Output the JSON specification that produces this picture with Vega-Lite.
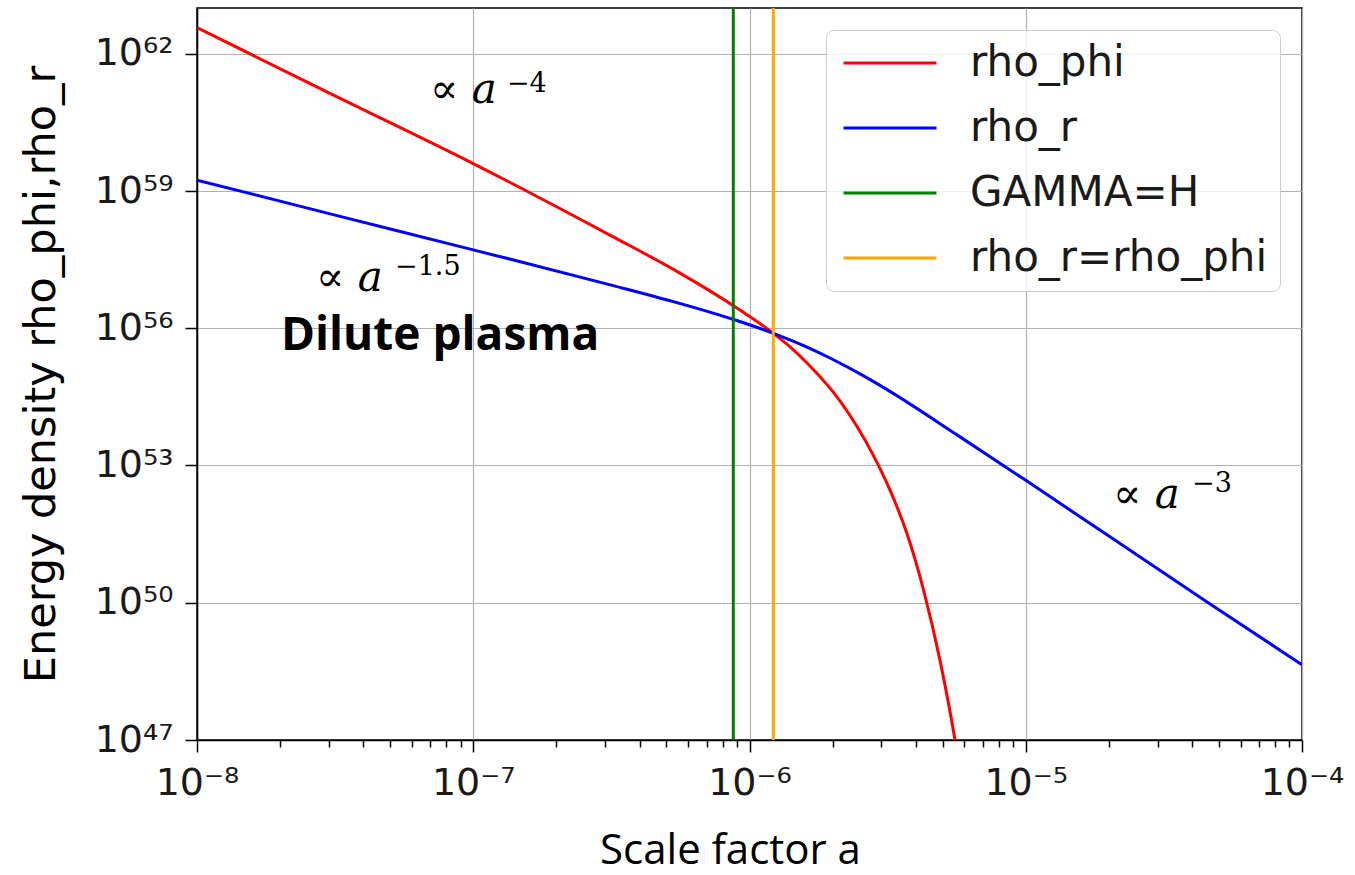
{
  "$schema": "https://vega.github.io/schema/vega-lite/v6.json",
  "width": 1105,
  "height": 732,
  "autosize": {"type": "none"},
  "padding": {"left": 197, "top": 8, "right": 53, "bottom": 135},
  "background": "white",
  "datasets": {
    "curves": [
      {"a": 1e-8, "rho": 3.715e62, "series": "rho_phi"},
      {"a": 3.162e-8, "rho": 1.202e61, "series": "rho_phi"},
      {"a": 1e-7, "rho": 3.981e59, "series": "rho_phi"},
      {"a": 3.162e-7, "rho": 1.047e58, "series": "rho_phi"},
      {"a": 5.623e-7, "rho": 1.585e57, "series": "rho_phi"},
      {"a": 8.71e-7, "rho": 3.162e56, "series": "rho_phi"},
      {"a": 1.2194e-6, "rho": 7.745e55, "series": "rho_phi"},
      {"a": 1.413e-6, "rho": 3.784e55, "series": "rho_phi"},
      {"a": 1.6097e-6, "rho": 1.778e55, "series": "rho_phi"},
      {"a": 2.1258e-6, "rho": 2.57e54, "series": "rho_phi"},
      {"a": 2.8071e-6, "rho": 1.66e53, "series": "rho_phi"},
      {"a": 3.2263e-6, "rho": 2.884e52, "series": "rho_phi"},
      {"a": 3.7068e-6, "rho": 3.388e51, "series": "rho_phi"},
      {"a": 4.258e-6, "rho": 1.995e50, "series": "rho_phi"},
      {"a": 4.8933e-6, "rho": 5.495e48, "series": "rho_phi"},
      {"a": 5.5451e-6, "rho": 1e47, "series": "rho_phi"},
      {"a": 6.026e-6, "rho": 3.802e45, "series": "rho_phi"},
      {"a": 1e-8, "rho": 1.73e59, "series": "rho_r"},
      {"a": 3.162e-8, "rho": 2.972e58, "series": "rho_r"},
      {"a": 1e-7, "rho": 5.164e57, "series": "rho_r"},
      {"a": 3.162e-7, "rho": 8.77e56, "series": "rho_r"},
      {"a": 5.623e-7, "rho": 3.451e56, "series": "rho_r"},
      {"a": 8.71e-7, "rho": 1.57e56, "series": "rho_r"},
      {"a": 1.2194e-6, "rho": 7.745e55, "series": "rho_r"},
      {"a": 1.585e-6, "rho": 4.074e55, "series": "rho_r"},
      {"a": 1.972e-6, "rho": 2.183e55, "series": "rho_r"},
      {"a": 2.512e-6, "rho": 1.007e55, "series": "rho_r"},
      {"a": 3.105e-6, "rho": 4.797e54, "series": "rho_r"},
      {"a": 5.694e-6, "rho": 4.498e53, "series": "rho_r"},
      {"a": 1.013e-5, "rho": 4.498e52, "series": "rho_r"},
      {"a": 1.914e-5, "rho": 3.42e51, "series": "rho_r"},
      {"a": 4.477e-5, "rho": 1.096e50, "series": "rho_r"},
      {"a": 1e-4, "rho": 4.406e48, "series": "rho_r"}
    ],
    "vlines": [
      {"a": 8.737e-7, "series": "GAMMA=H"},
      {"a": 1.2194e-6, "series": "rho_r=rho_phi"}
    ],
    "powers": [
      {"a": 6.972e-8, "rho": 8.375e60, "t": "∝ a"},
      {"a": 2.697e-8, "rho": 6.516e56, "t": "∝ a"},
      {"a": 2.069e-5, "rho": 1.178e52, "t": "∝ a"}
    ],
    "exps": [
      {"a": 1.324e-7, "rho": 1.459e61, "t": "−4"},
      {"a": 5.212e-8, "rho": 1.459e57, "t": "−1.5"},
      {"a": 3.999e-5, "rho": 2.636e52, "t": "−3"}
    ],
    "notes": [
      {"a": 2.014e-8, "rho": 3.35e55, "t": "Dilute plasma"}
    ]
  },
  "layer": [
    {
      "data": {"name": "curves"},
      "mark": {"type": "line", "strokeWidth": 3, "interpolate": "monotone", "clip": true},
      "encoding": {
        "x": {
          "field": "a",
          "type": "quantitative",
          "scale": {"type": "log", "domain": [1e-8, 1e-4], "nice": false},
          "axis": {
            "title": "Scale factor a",
            "values": [1e-8, 2e-8, 3e-8, 4e-8, 5e-8, 6e-8, 7e-8, 8e-8, 9e-8, 1e-7, 2e-7, 3e-7, 4e-7, 5e-7, 6e-7, 7e-7, 8e-7, 9e-7, 1e-6, 2e-6, 3e-6, 4e-6, 5e-6, 6e-6, 7e-6, 8e-6, 9e-6, 1e-5, 2e-5, 3e-5, 4e-5, 5e-5, 6e-5, 7e-5, 8e-5, 9e-5, 1e-4],
            "labelExpr": "abs(log(datum.value)/LN10 - round(log(datum.value)/LN10)) < 1e-6 ? '10⁻' + substring('⁰¹²³⁴⁵⁶⁷⁸⁹', -round(log(datum.value)/LN10), -round(log(datum.value)/LN10)+1) : ''",
            "tickSize": {"condition": {"test": "abs(log(datum.value)/LN10 - round(log(datum.value)/LN10)) < 1e-6", "value": 12}, "value": 7},
            "gridOpacity": {"condition": {"test": "abs(log(datum.value)/LN10 - round(log(datum.value)/LN10)) < 1e-6", "value": 1}, "value": 0},
            "labelFontSize": 38,
            "labelPadding": 12,
            "labelFlush": false,
            "labelOverlap": false,
            "titleFont": "Open Sans",
            "titleFontSize": 42,
            "titlePadding": 28,
            "titleX": 533
          }
        },
        "y": {
          "field": "rho",
          "type": "quantitative",
          "scale": {"type": "log", "domain": [1e47, 1e63], "nice": false},
          "axis": {
            "title": "Energy density rho_phi,rho_r",
            "values": [1e47, 1e50, 1e53, 1e56, 1e59, 1e62],
            "labelExpr": "'10' + substring('⁰¹²³⁴⁵⁶⁷⁸⁹', floor(round(log(datum.value)/LN10)/10), floor(round(log(datum.value)/LN10)/10)+1) + substring('⁰¹²³⁴⁵⁶⁷⁸⁹', round(log(datum.value)/LN10)%10, round(log(datum.value)/LN10)%10+1)",
            "tickSize": 12,
            "labelFontSize": 38,
            "labelPadding": 12,
            "labelFlush": false,
            "labelOverlap": false,
            "labelBaseline": "middle",
            "titleFont": "DejaVu Sans",
            "titleFontSize": 43,
            "titlePadding": 31
          }
        },
        "color": {
          "field": "series",
          "type": "nominal",
          "scale": {"domain": ["rho_phi", "rho_r", "GAMMA=H", "rho_r=rho_phi"], "range": ["#ff0000", "#0000ff", "#008000", "#ffa500"]},
          "legend": {
            "title": null,
            "orient": "top-right",
            "offset": 22,
            "symbolType": "M-1,0L5,0",
            "symbolSize": 961,
            "symbolStrokeWidth": 3,
            "labelFont": "DejaVu Sans",
            "labelFontSize": 42,
            "labelColor": "#1a1a1a",
            "labelLimit": 500,
            "labelOffset": 90,
            "rowPadding": 23,
            "padding": 12,
            "fillColor": "rgba(255,255,255,0.8)",
            "strokeColor": "#cccccc",
            "cornerRadius": 8
          }
        }
      }
    },
    {
      "data": {"name": "vlines"},
      "mark": {"type": "rule", "strokeWidth": 3},
      "encoding": {
        "x": {"field": "a", "type": "quantitative"},
        "color": {"field": "series", "type": "nominal"}
      }
    },
    {
      "data": {"name": "powers"},
      "mark": {"type": "text", "font": "DejaVu Serif", "fontStyle": "italic", "fontSize": 42, "align": "left", "baseline": "alphabetic", "color": "#000"},
      "encoding": {
        "x": {"field": "a", "type": "quantitative"},
        "y": {"field": "rho", "type": "quantitative"},
        "text": {"field": "t"}
      }
    },
    {
      "data": {"name": "exps"},
      "mark": {"type": "text", "font": "DejaVu Serif", "fontSize": 27, "align": "left", "baseline": "alphabetic", "color": "#000"},
      "encoding": {
        "x": {"field": "a", "type": "quantitative"},
        "y": {"field": "rho", "type": "quantitative"},
        "text": {"field": "t"}
      }
    },
    {
      "data": {"name": "notes"},
      "mark": {"type": "text", "font": "Open Sans", "fontWeight": "bold", "fontSize": 46, "align": "left", "baseline": "alphabetic", "color": "#000"},
      "encoding": {
        "x": {"field": "a", "type": "quantitative"},
        "y": {"field": "rho", "type": "quantitative"},
        "text": {"field": "t"}
      }
    }
  ],
  "config": {
    "view": {"stroke": "#000", "strokeWidth": 1.5},
    "axis": {
      "domainColor": "#000",
      "domainWidth": 1.5,
      "tickColor": "#000",
      "tickWidth": 1.5,
      "gridColor": "#b0b0b0",
      "gridWidth": 1.2,
      "labelFont": "DejaVu Sans",
      "labelColor": "#1a1a1a",
      "titleColor": "#000",
      "titleFontWeight": "normal"
    }
  }
}
